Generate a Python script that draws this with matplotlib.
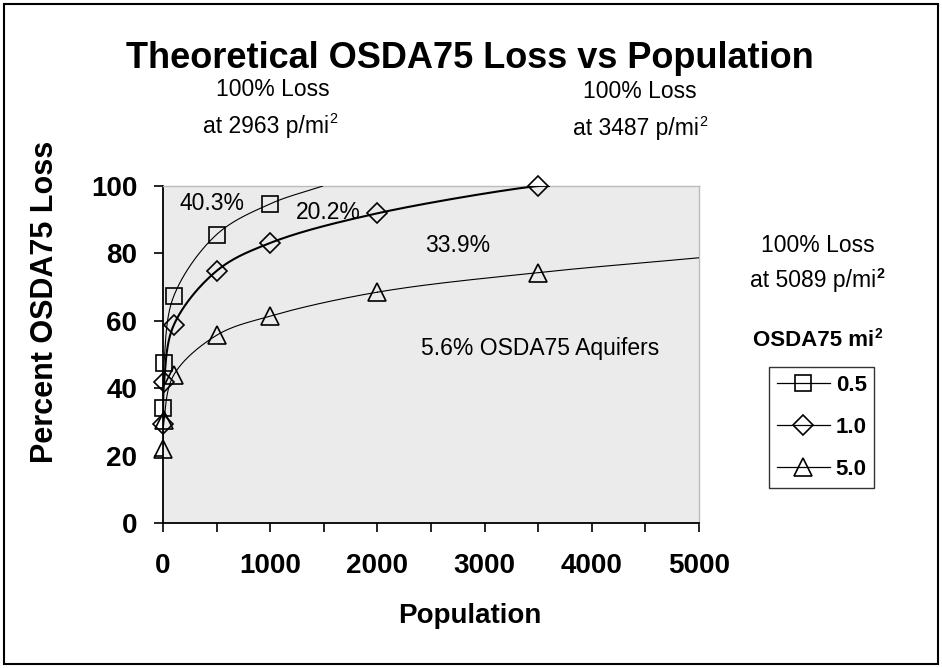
import numpy as np
import matplotlib
matplotlib.use('Agg')
import matplotlib.pyplot as plt
from matplotlib.patches import Rectangle
from matplotlib.ticker import MultipleLocator

plt.rcParams['font.family'] = ['Liberation Sans', 'DejaVu Sans']

# ---------------- data ----------------
population = [0, 10, 100, 500, 1000, 2000, 3500]
loss_05 = [34.0, 47.6, 67.3, 85.6, 94.7]
loss_10 = [29.5, 41.7, 58.7, 74.8, 83.1, 91.9, 100.0]
loss_50 = [22.1, 30.5, 43.9, 55.7, 61.4, 68.5, 74.3]
# where each drawn curve ends (edge of plot)
end_05 = (1490, 100.0)
end_10 = (3600, 100.0)
end_50 = (5000, 78.7)

series_labels = ['0.5', '1.0', '5.0']
x_ticks = [0, 1000, 2000, 3000, 4000, 5000]
y_ticks = [0, 20, 40, 60, 80, 100]

W, H = 942, 668


def fx(x):
    return x / W


def fy(y):
    return 1 - y / H


def smooth(xs, ys, n=40):
    """Centripetal Catmull-Rom smoothing in screen-like space."""
    sx, sy = 536 / 5000.0, 337 / 100.0
    P = np.column_stack([np.asarray(xs) * sx, np.asarray(ys) * sy])
    P = np.vstack([2 * P[0] - P[1], P, 2 * P[-1] - P[-2]])
    out = []
    for i in range(1, len(P) - 2):
        p0, p1, p2, p3 = P[i - 1], P[i], P[i + 1], P[i + 2]
        t0 = 0.0
        t1 = t0 + max(np.linalg.norm(p1 - p0), 1e-6) ** 0.5
        t2 = t1 + max(np.linalg.norm(p2 - p1), 1e-6) ** 0.5
        t3 = t2 + max(np.linalg.norm(p3 - p2), 1e-6) ** 0.5
        t = np.linspace(t1, t2, n)[:, None]
        A1 = (t1 - t) / (t1 - t0) * p0 + (t - t0) / (t1 - t0) * p1
        A2 = (t2 - t) / (t2 - t1) * p1 + (t - t1) / (t2 - t1) * p2
        A3 = (t3 - t) / (t3 - t2) * p2 + (t - t2) / (t3 - t2) * p3
        B1 = (t2 - t) / (t2 - t0) * A1 + (t - t0) / (t2 - t0) * A2
        B2 = (t3 - t) / (t3 - t1) * A2 + (t - t1) / (t3 - t1) * A3
        C = (t2 - t) / (t2 - t1) * B1 + (t - t1) / (t2 - t1) * B2
        out.append(C)
    C = np.vstack(out)
    return C[:, 0] / sx, C[:, 1] / sy


fig = plt.figure(figsize=(W / 100, H / 100), dpi=100)
ax = fig.add_axes([fx(163), fy(523), (699 - 163) / W, (523 - 186) / H])
ax.set_facecolor('#EBEBEB')

series = [
    (loss_05, end_05, 's', 0.8, 12),
    (loss_10, end_10, 'D', 1.5, 10),
    (loss_50, end_50, '^', 0.8, 13),
]
handles = []
for vals, end, mk, lw, ms in series:
    xs = population[:len(vals)] + [end[0]]
    ys = list(vals) + [end[1]]
    cx, cy = smooth(xs, ys)
    ax.plot(cx, cy, color='black', lw=lw, zorder=3)
    ax.plot(population[:len(vals)], vals, ls='none', marker=mk, ms=ms,
            mfc='none', mec='black', mew=1.2, clip_on=False, zorder=4)
    h, = ax.plot([], [], color='black', lw=0.9, marker=mk, ms=ms,
                 mfc='none', mec='black', mew=1.2)
    handles.append(h)

ax.set_xlim(0, 5000)
ax.set_ylim(0, 100)
ax.set_xticks(x_ticks)
ax.set_yticks(y_ticks)
ax.xaxis.set_minor_locator(MultipleLocator(500))
ax.tick_params(axis='both', which='both', direction='out', length=6.5,
               width=1.2, colors='black')
ax.tick_params(axis='x', labelsize=20, pad=15)
ax.tick_params(axis='y', labelsize=20, pad=12)
for lab in ax.get_xticklabels() + ax.get_yticklabels():
    lab.set_fontweight('bold')
for s in ['top', 'right']:
    ax.spines[s].set_color('#BBBBBB')
    ax.spines[s].set_linewidth(1.0)
for s in ['left', 'bottom']:
    ax.spines[s].set_color('black')
    ax.spines[s].set_linewidth(1.3)

# titles and axis labels
fig.text(fx(470), fy(58), 'Theoretical OSDA75 Loss vs Population',
         ha='center', va='center', fontsize=26, fontweight='bold')
fig.text(fx(45), fy(302), 'Percent OSDA75 Loss', rotation=90,
         ha='center', va='center', fontsize=22, fontweight='bold')
fig.text(fx(470), fy(616), 'Population', ha='center', va='center',
         fontsize=20, fontweight='bold')


def sup_text(x, y, base, fs=16.5, sup_weight='normal', weight='normal'):
    """Text with a trailing superscript 2, centred as a whole at (x, y)."""
    t = fig.text(fx(x), fy(y), base, ha='center', va='center',
                 fontsize=fs, fontweight=weight)
    s = fig.text(0, 0, '2', fontsize=fs * 0.62, fontweight=sup_weight)
    fig.canvas.draw()
    r = fig.canvas.get_renderer()
    sb = s.get_window_extent(r)
    shift = sb.width / 2.0
    t.set_position((fx(x) - shift / fig.bbox.width, fy(y)))
    bb = t.get_window_extent(r)
    s.set_position(((bb.x1 + 0.5) / fig.bbox.width,
                    (bb.y1 - sb.height * 0.62) / fig.bbox.height))
    return t, s


# annotations
fs = 16.5
fig.text(fx(212), fy(203), '40.3%', ha='center', va='center', fontsize=fs)
fig.text(fx(328), fy(213), '20.2%', ha='center', va='center', fontsize=fs)
fig.text(fx(458), fy(245), '33.9%', ha='center', va='center', fontsize=fs)
fig.text(fx(540), fy(348), '5.6% OSDA75 Aquifers', ha='center', va='center',
         fontsize=fs)

fig.text(fx(273), fy(89), '100% Loss', ha='center', va='center', fontsize=fs)
sup_text(270, 126, 'at 2963 p/mi')
fig.text(fx(640), fy(92), '100% Loss', ha='center', va='center', fontsize=fs)
sup_text(640, 129, 'at 3487 p/mi')
fig.text(fx(818), fy(245), '100% Loss', ha='center', va='center', fontsize=fs)
sup_text(817, 281, 'at 5089 p/mi', sup_weight='bold')

# legend
sup_text(817, 340, 'OSDA75 mi', fs=16, sup_weight='bold', weight='bold')
leg = fig.legend(handles, series_labels, loc='upper left',
                 bbox_to_anchor=(fx(769), fy(367)),
                 bbox_transform=fig.transFigure, borderaxespad=0,
                 frameon=True, fancybox=False, edgecolor='black',
                 handlelength=2.4, handletextpad=0.25, labelspacing=0.95,
                 borderpad=0.35, prop={'size': 16, 'weight': 'bold'})
leg.get_frame().set_linewidth(1.0)

# outer border
fig.patches.append(Rectangle((fx(4), fy(664)), (934) / W, (660) / H,
                             transform=fig.transFigure, fill=False,
                             lw=1.5, ec='black'))

fig.savefig('out.png', dpi=100)
